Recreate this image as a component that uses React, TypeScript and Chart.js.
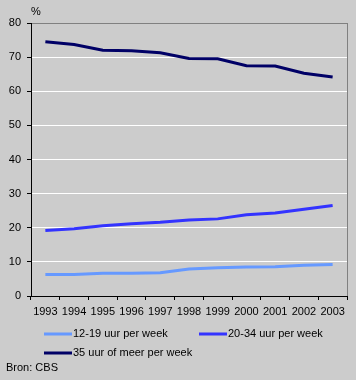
import React, { useEffect, useRef } from "react";
import { Chart, registerables } from "chart.js";

Chart.register(...registerables);

const years = ["1993", "1994", "1995", "1996", "1997", "1998", "1999", "2000", "2001", "2002", "2003"];
const hours12to19 = [6.3, 6.3, 6.7, 6.7, 6.8, 7.9, 8.3, 8.5, 8.6, 9.0, 9.2];
const hours20to34 = [19.2, 19.7, 20.6, 21.2, 21.6, 22.3, 22.6, 23.8, 24.3, 25.4, 26.5];
const hours35plus = [74.5, 73.7, 72.0, 71.9, 71.3, 69.6, 69.5, 67.5, 67.4, 65.3, 64.2];
const seriesLabels = ["12-19 uur per week", "20-34 uur per week", "35 uur of meer per week"];
const seriesColors = ["#6699ff", "#3333ff", "#000066"];
const yTicks = [0, 10, 20, 30, 40, 50, 60, 70, 80];
const unitLabel = "%";
const sourceLabel = "Bron: CBS";

const FONT = "Arial, 'Liberation Sans', sans-serif";

const decorPlugin = {
  id: "decor",
  afterDraw(chart: any) {
    const ctx = chart.ctx;
    const area = chart.chartArea;
    ctx.save();
    // right border
    ctx.strokeStyle = "#808080";
    ctx.lineWidth = 1;
    ctx.beginPath();
    ctx.moveTo(area.right + 0.5, area.top);
    ctx.lineTo(area.right + 0.5, area.bottom);
    ctx.stroke();

    ctx.fillStyle = "#000000";
    ctx.font = `11px ${FONT}`;
    ctx.textBaseline = "middle";
    ctx.textAlign = "left";
    ctx.fillText(unitLabel, 31, 12);
    ctx.fillText(sourceLabel, 6, 368);

    // legend
    const pos = [
      { x: 44, y: 334 },
      { x: 199, y: 334 },
      { x: 44, y: 353 },
    ];
    chart.data.datasets.forEach((ds: any, i: number) => {
      const p = pos[i];
      ctx.strokeStyle = ds.borderColor;
      ctx.lineWidth = 3;
      ctx.beginPath();
      ctx.moveTo(p.x, p.y);
      ctx.lineTo(p.x + 28, p.y);
      ctx.stroke();
      ctx.fillStyle = "#000000";
      ctx.fillText(ds.label, p.x + 29, p.y);
    });
    ctx.restore();
  },
};

export default function App() {
  const ref = useRef<HTMLCanvasElement | null>(null);
  useEffect(() => {
    if (!ref.current) return;
    const data = [hours12to19, hours20to34, hours35plus];
    const chart = new Chart(ref.current, {
      type: "line",
      data: {
        labels: years,
        datasets: data.map((d, i) => ({
          label: seriesLabels[i],
          data: d,
          borderColor: seriesColors[i],
          backgroundColor: seriesColors[i],
          borderWidth: 3,
          pointRadius: 0,
          tension: 0,
          fill: false,
        })),
      },
      options: {
        animation: false,
        responsive: false,
        devicePixelRatio: 1,
        layout: { padding: { top: 23, right: 9, left: 0, bottom: 0 } },
        plugins: {
          legend: { display: false },
          tooltip: { enabled: false },
        },
        scales: {
          x: {
            type: "category",
            offset: true,
            grid: {
              offset: true,
              drawOnChartArea: false,
              drawTicks: true,
              tickLength: 4,
              tickColor: "#000000",
              color: "#000000",
            },
            border: { display: true, color: "#000000", width: 1 },
            ticks: {
              color: "#000000",
              font: { family: FONT, size: 11 },
              padding: 5,
              maxRotation: 0,
              autoSkip: false,
            },
            afterFit: (scale: any) => {
              scale.height = 84;
            },
          },
          y: {
            min: 0,
            max: 80,
            afterBuildTicks: (scale: any) => {
              scale.ticks = yTicks.map((v) => ({ value: v }));
            },
            grid: {
              color: (c: any) => {
                const v = c.tick ? c.tick.value : 0;
                if (v === 80) return "#808080";
                if (v === 0) return "rgba(0,0,0,0)";
                return "#ffffff";
              },
              lineWidth: 1,
              drawTicks: true,
              tickLength: 4,
              tickColor: "#000000",
            },
            border: { display: true, color: "#000000", width: 1 },
            ticks: {
              color: "#000000",
              font: { family: FONT, size: 11 },
              padding: 6,
            },
            afterFit: (scale: any) => {
              scale.width = 31;
            },
          },
        },
      },
      plugins: [decorPlugin],
    } as any);
    return () => chart.destroy();
  }, []);

  return (
    <div
      style={{
        position: "absolute",
        left: 0,
        top: 0,
        width: 356,
        height: 380,
        background: "#cccccc",
      }}
    >
      <canvas ref={ref} width={356} height={380} style={{ display: "block" }} />
    </div>
  );
}
